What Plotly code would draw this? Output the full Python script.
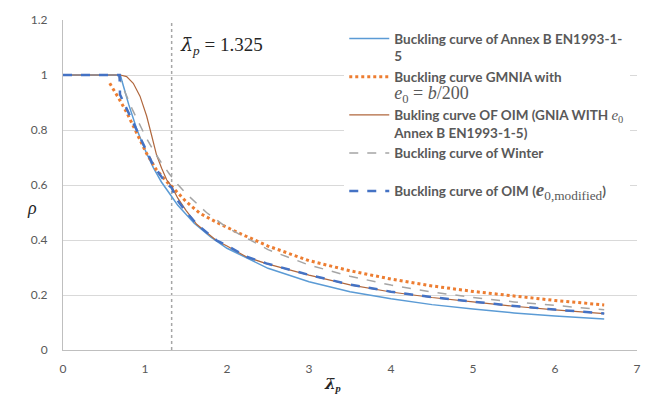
import plotly.graph_objects as go

# ---- data ----
lam_annexB = [0, 0.70, 0.72, 0.75, 0.80, 0.90, 1.00, 1.10, 1.20, 1.325, 1.40, 1.60, 1.80, 2.00, 2.50, 3.00, 3.50, 4.00, 4.50, 5.00, 5.50, 6.00, 6.60]
rho_annexB = [1.0, 1.0, 0.977, 0.945, 0.894, 0.803, 0.728, 0.664, 0.611, 0.558, 0.526, 0.461, 0.411, 0.370, 0.297, 0.248, 0.212, 0.186, 0.165, 0.149, 0.135, 0.124, 0.113]

lam_gmnia = [0.57, 0.62, 0.70, 0.78, 0.90, 1.02, 1.14, 1.26, 1.325, 1.40, 1.50, 1.67, 1.90, 2.12, 2.50, 3.00, 3.50, 4.00, 4.50, 5.00, 5.50, 6.00, 6.60]
rho_gmnia = [0.97, 0.946, 0.905, 0.862, 0.786, 0.714, 0.655, 0.613, 0.595, 0.572, 0.540, 0.497, 0.460, 0.429, 0.378, 0.325, 0.288, 0.258, 0.233, 0.213, 0.196, 0.180, 0.164]

lam_oim = [0, 0.70, 0.776, 0.857, 0.939, 1.02, 1.081, 1.142, 1.203, 1.264, 1.325, 1.40, 1.50, 1.63, 1.87, 2.00, 2.24, 2.48, 3.00, 3.50, 4.00, 4.50, 5.00, 5.50, 6.00, 6.60]
rho_oim = [1.0, 1.0, 0.994, 0.970, 0.923, 0.851, 0.780, 0.708, 0.661, 0.619, 0.595, 0.552, 0.508, 0.457, 0.398, 0.378, 0.338, 0.314, 0.272, 0.237, 0.211, 0.191, 0.175, 0.159, 0.146, 0.132]

lam_winter = [0, 0.673, 0.75, 0.85, 1.00, 1.10, 1.20, 1.30, 1.40, 1.50, 1.75, 2.00, 2.50, 3.00, 3.50, 4.00, 4.50, 5.00, 5.50, 6.00, 6.60]
rho_winter = [1.0, 1.0, 0.942, 0.872, 0.780, 0.727, 0.681, 0.639, 0.602, 0.569, 0.500, 0.445, 0.365, 0.309, 0.268, 0.236, 0.211, 0.191, 0.175, 0.161, 0.1465]

lam_oim_mod = [0, 0.69, 0.695, 0.76, 0.86, 0.98, 1.10, 1.26, 1.325, 1.386, 1.508, 1.63, 1.87, 2.00, 2.24, 2.48, 3.00, 3.50, 4.00, 4.50, 5.00, 5.50, 6.00, 6.60]
rho_oim_mod = [1.0, 1.0, 0.929, 0.887, 0.821, 0.744, 0.672, 0.605, 0.590, 0.548, 0.500, 0.458, 0.399, 0.380, 0.339, 0.315, 0.273, 0.238, 0.212, 0.192, 0.176, 0.160, 0.147, 0.133]

LAMBDA_P = 1.325
x_ticks = [0, 1, 2, 3, 4, 5, 6, 7]
y_ticks = [0, 0.2, 0.4, 0.6, 0.8, 1.0, 1.2]
y_tick_text = ["0", "0.2", "0.4", "0.6", "0.8", "1", "1.2"]

MATH = "Liberation Serif"
LAMBAR = '<span style="font-family:DejaVu Serif;">λ̄</span>'

def m(s, size=None):
    sz = f"font-size:{size}px;" if size else ""
    return f'<span style="font-family:{MATH};font-weight:normal;{sz}">{s}</span>'

names = [
    "Buckling curve of Annex B EN1993-1-<br>5",
    "Buckling curve GMNIA with<br>" + m("<i>e</i><sub>0</sub> = <i>b</i>/200", 18),
    "Bukling curve OF OIM (GNIA WITH " + m("<i>e</i><sub>0</sub>", 15) + "<br>Annex B EN1993-1-5)",
    "Buckling curve of Winter<br> ",
    "Buckling curve of OIM (" + m("<b><i>e</i></b><sub>0,modified</sub>", 19) + ")",
]

fig = go.Figure()
fig.add_trace(go.Scatter(x=lam_annexB, y=rho_annexB, mode="lines", name=names[0],
                         line=dict(color="#5B9BD5", width=1.5)))
fig.add_trace(go.Scatter(x=lam_gmnia, y=rho_gmnia, mode="lines", name=names[1],
                         line=dict(color="#ED7D31", width=3, dash="dot")))
fig.add_trace(go.Scatter(x=lam_oim, y=rho_oim, mode="lines", name=names[2],
                         line=dict(color="#B0673D", width=1.2)))
fig.add_trace(go.Scatter(x=lam_winter, y=rho_winter, mode="lines", name=names[3],
                         line=dict(color="#A5A5A5", width=1.5, dash="dash")))
fig.add_trace(go.Scatter(x=lam_oim_mod, y=rho_oim_mod, mode="lines", name=names[4],
                         line=dict(color="#4472C4", width=2.5, dash="dash")))

fig.add_shape(type="line", xref="x", yref="y", x0=LAMBDA_P, x1=LAMBDA_P, y0=0, y1=1.2,
              line=dict(color="#A6A6A6", width=1.5, dash="dot"), layer="below")

fig.add_annotation(x=LAMBDA_P, y=1.107, xref="x", yref="y", xanchor="left", yanchor="middle",
                   xshift=6, showarrow=False,
                   text="<i>" + LAMBAR + "<sub>p</sub></i> = 1.325",
                   font=dict(family=MATH, size=19, color="#262626"))

fig.add_annotation(x=0, y=0.43, xref="paper", yref="paper", xanchor="center", yanchor="middle",
                   xshift=-31, showarrow=False, text="<i>ρ</i>",
                   font=dict(family=MATH, size=18, color="#262626"))

fig.add_annotation(x=0.47, y=0, xref="paper", yref="paper", xanchor="center", yanchor="top",
                   yshift=-23, showarrow=False, text="<b><i>" + LAMBAR + "<sub>p</sub></i></b>",
                   font=dict(family=MATH, size=15, color="#262626"))

fig.update_layout(
    width=656, height=396,
    margin=dict(l=63, r=19, t=14, b=46),
    paper_bgcolor="white", plot_bgcolor="white",
    showlegend=True,
    legend=dict(x=0.49, y=0.99, xanchor="left", yanchor="top",
                bgcolor="white", borderwidth=0, valign="top",
                font=dict(family="Lato", size=13.5, color="#595959", weight="bold"),
                itemwidth=40, tracegroupgap=0),
    font=dict(family="Lato", size=12, color="#595959"),
)
fig.update_xaxes(range=[0, 7], tickvals=x_ticks, showgrid=False, zeroline=False,
                 showline=True, linecolor="#BFBFBF", linewidth=1, ticks="",
                 tickfont=dict(family="Lato", size=12, color="#595959"), ticklabelstandoff=8)
fig.update_yaxes(range=[0, 1.2], tickvals=y_ticks, ticktext=y_tick_text, showgrid=True,
                 gridcolor="#D9D9D9", gridwidth=1, zeroline=False,
                 showline=True, linecolor="#BFBFBF", linewidth=1, ticks="",
                 tickfont=dict(family="Lato", size=12, color="#595959"), ticklabelstandoff=12)

fig.write_html("out.html")
